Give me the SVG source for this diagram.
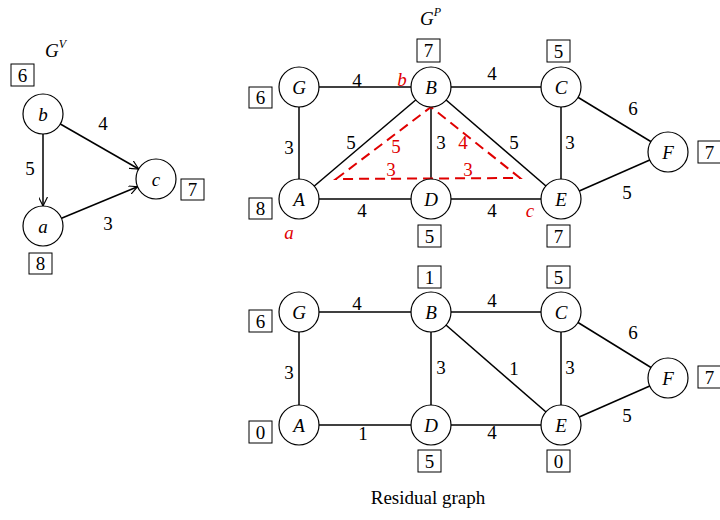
<svg xmlns="http://www.w3.org/2000/svg" width="720" height="520" viewBox="0 0 720 520">
<style>
text{font-family:"Liberation Serif","Times New Roman",serif;fill:#000}
.n circle{fill:#fff;stroke:#000;stroke-width:1.2}
.n text{font-style:italic;font-size:19px;text-anchor:middle}
.e line{stroke:#000;stroke-width:1.5}
.lbl{font-size:19px;text-anchor:middle}
.box rect{fill:#fff;stroke:#000;stroke-width:1}
.box text{font-size:19px;text-anchor:middle}
.red{fill:#e00000;font-size:19px;text-anchor:middle}
.redi{fill:#e00000;font-size:19px;font-style:italic;text-anchor:middle}
.ttl{font-style:italic;font-size:19px}
</style>
<defs>
<marker id="arr" viewBox="0 0 10 10" refX="10" refY="5" markerWidth="9" markerHeight="9" orient="auto" markerUnits="userSpaceOnUse">
<path d="M0,0 L10,5 L0,10" fill="none" stroke="#000" stroke-width="1.3"/>
</marker>
</defs>

<!-- Left graph G^V -->
<text class="ttl" x="45" y="57">G<tspan font-size="12" dy="-9">V</tspan></text>
<g id="connectors-v" class="e">
<line x1="43" y1="134" x2="43" y2="206" marker-end="url(#arr)"/>
<line x1="60.3" y1="124" x2="138.7" y2="169" marker-end="url(#arr)"/>
<line x1="61.5" y1="218.3" x2="137.5" y2="186.7" marker-end="url(#arr)"/>
</g>
<text class="lbl" x="103" y="130">4</text>
<text class="lbl" x="30" y="175">5</text>
<text class="lbl" x="108" y="230">3</text>
<g id="v-b" class="n"><circle cx="43" cy="114" r="20"/><text x="43" y="120.5">b</text></g>
<g id="v-a" class="n"><circle cx="43" cy="226" r="20"/><text x="43" y="232.5">a</text></g>
<g id="v-c" class="n"><circle cx="156" cy="179" r="20"/><text x="156" y="185.5">c</text></g>
<g class="box"><rect x="11" y="64" width="23" height="22"/><text x="22.5" y="81.5">6</text></g>
<g class="box"><rect x="29" y="253" width="23" height="21"/><text x="40.5" y="270">8</text></g>
<g class="box"><rect x="181" y="179" width="23" height="21"/><text x="192.5" y="196">7</text></g>

<!-- Top graph G^P -->
<text class="ttl" x="420" y="25">G<tspan font-size="12" dy="-9">P</tspan></text>
<g id="connectors-p" class="e">
<line x1="299" y1="87" x2="431" y2="87"/>
<line x1="431" y1="87" x2="561" y2="87"/>
<line x1="299" y1="87" x2="299" y2="199"/>
<line x1="299" y1="199" x2="431" y2="199"/>
<line x1="431" y1="199" x2="561" y2="199"/>
<line x1="431" y1="87" x2="431" y2="199"/>
<line x1="561" y1="87" x2="561" y2="199"/>
<line x1="299" y1="199" x2="431" y2="87"/>
<line x1="431" y1="87" x2="561" y2="199"/>
<line x1="561" y1="87" x2="668" y2="152"/>
<line x1="561" y1="199" x2="668" y2="152"/>
</g>
<polygon points="336,179 431,107 520,178" fill="none" stroke="#e00000" stroke-width="2" stroke-dasharray="10,6"/>
<text class="lbl" x="357" y="87">4</text>
<text class="lbl" x="492" y="80">4</text>
<text class="lbl" x="289" y="154">3</text>
<text class="lbl" x="351" y="149">5</text>
<text class="lbl" x="441" y="149">3</text>
<text class="lbl" x="514" y="149">5</text>
<text class="lbl" x="570" y="149">3</text>
<text class="lbl" x="633" y="115">6</text>
<text class="lbl" x="627" y="199">5</text>
<text class="lbl" x="362" y="217">4</text>
<text class="lbl" x="492" y="217">4</text>
<text class="red" x="396" y="153">5</text>
<text class="red" x="391" y="176">3</text>
<text class="red" x="463" y="149">4</text>
<text class="red" x="468" y="176">3</text>
<text class="redi" x="402" y="86">b</text>
<text class="redi" x="289" y="239">a</text>
<text class="redi" x="530" y="217">c</text>
<g id="p-G" class="n"><circle cx="299" cy="87" r="20"/><text x="299" y="93.5">G</text></g>
<g id="p-B" class="n"><circle cx="431" cy="87" r="20"/><text x="431" y="93.5">B</text></g>
<g id="p-C" class="n"><circle cx="561" cy="87" r="20"/><text x="561" y="93.5">C</text></g>
<g id="p-A" class="n"><circle cx="299" cy="199" r="20"/><text x="299" y="205.5">A</text></g>
<g id="p-D" class="n"><circle cx="431" cy="199" r="20"/><text x="431" y="205.5">D</text></g>
<g id="p-E" class="n"><circle cx="561" cy="199" r="20"/><text x="561" y="205.5">E</text></g>
<g id="p-F" class="n"><circle cx="668" cy="152" r="20"/><text x="668" y="158.5">F</text></g>
<g class="box"><rect x="417" y="39" width="23" height="23"/><text x="428.5" y="57">7</text></g>
<g class="box"><rect x="547" y="40" width="23" height="22"/><text x="558.5" y="57.5">5</text></g>
<g class="box"><rect x="249" y="87" width="23" height="21"/><text x="260.5" y="104">6</text></g>
<g class="box"><rect x="249" y="198" width="23" height="21"/><text x="260.5" y="215">8</text></g>
<g class="box"><rect x="418" y="225" width="23" height="22"/><text x="429.5" y="242.5">5</text></g>
<g class="box"><rect x="547" y="225" width="23" height="22"/><text x="558.5" y="242.5">7</text></g>
<g class="box"><rect x="698" y="141" width="23" height="22"/><text x="709.5" y="158.5">7</text></g>

<!-- Bottom residual graph -->
<g id="connectors-r" class="e">
<line x1="299" y1="312" x2="431" y2="312"/>
<line x1="431" y1="312" x2="561" y2="312"/>
<line x1="299" y1="312" x2="299" y2="425"/>
<line x1="299" y1="425" x2="431" y2="425"/>
<line x1="431" y1="425" x2="561" y2="425"/>
<line x1="431" y1="312" x2="431" y2="425"/>
<line x1="561" y1="312" x2="561" y2="425"/>
<line x1="431" y1="312" x2="561" y2="425"/>
<line x1="561" y1="312" x2="668" y2="378"/>
<line x1="561" y1="425" x2="668" y2="378"/>
</g>
<text class="lbl" x="357" y="310">4</text>
<text class="lbl" x="492" y="307">4</text>
<text class="lbl" x="289" y="379">3</text>
<text class="lbl" x="441" y="374">3</text>
<text class="lbl" x="514" y="375">1</text>
<text class="lbl" x="570" y="374">3</text>
<text class="lbl" x="633" y="339">6</text>
<text class="lbl" x="627" y="422">5</text>
<text class="lbl" x="363" y="440">1</text>
<text class="lbl" x="492" y="439">4</text>
<g id="r-G" class="n"><circle cx="299" cy="312" r="20"/><text x="299" y="318.5">G</text></g>
<g id="r-B" class="n"><circle cx="431" cy="312" r="20"/><text x="431" y="318.5">B</text></g>
<g id="r-C" class="n"><circle cx="561" cy="312" r="20"/><text x="561" y="318.5">C</text></g>
<g id="r-A" class="n"><circle cx="299" cy="425" r="20"/><text x="299" y="431.5">A</text></g>
<g id="r-D" class="n"><circle cx="431" cy="425" r="20"/><text x="431" y="431.5">D</text></g>
<g id="r-E" class="n"><circle cx="561" cy="425" r="20"/><text x="561" y="431.5">E</text></g>
<g id="r-F" class="n"><circle cx="668" cy="378" r="20"/><text x="668" y="384.5">F</text></g>
<g class="box"><rect x="418" y="266" width="23" height="22"/><text x="429.5" y="283.5">1</text></g>
<g class="box"><rect x="547" y="266" width="23" height="22"/><text x="558.5" y="283.5">5</text></g>
<g class="box"><rect x="249" y="310" width="23" height="22"/><text x="260.5" y="327.5">6</text></g>
<g class="box"><rect x="249" y="421" width="23" height="22"/><text x="260.5" y="438.5">0</text></g>
<g class="box"><rect x="418" y="450" width="23" height="22"/><text x="429.5" y="467.5">5</text></g>
<g class="box"><rect x="547" y="450" width="23" height="22"/><text x="558.5" y="467.5">0</text></g>
<g class="box"><rect x="698" y="366" width="23" height="22"/><text x="709.5" y="383.5">7</text></g>
<text x="428" y="504" font-size="19" text-anchor="middle">Residual graph</text>
</svg>
